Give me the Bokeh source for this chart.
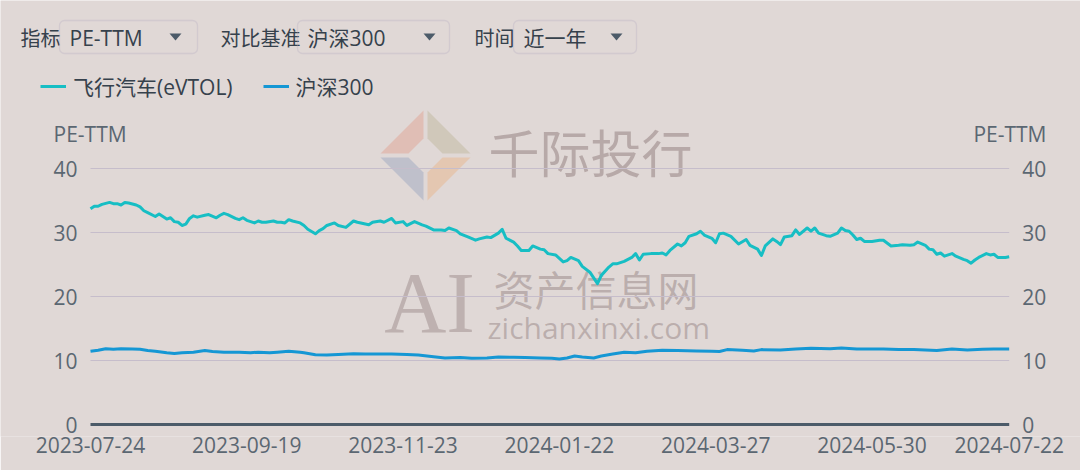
from bokeh.plotting import figure
from bokeh.models import (Range1d, FixedTicker, Label, BoxAnnotation,
                          PolyAnnotation, ColumnDataSource)
from bokeh.core.properties import value
from bokeh.embed import file_html
from bokeh.resources import INLINE

# ---------------- data (x = trading-day number, 0 = 2023-07-24) ----------------
series_names = ["飞行汽车(eVTOL)", "沪深300"]

evtol_day = [0, 1, 2, 3, 5, 6, 7, 8, 9, 10, 12, 13, 14, 15, 17, 18, 19, 20, 21, 22, 23, 24, 25, 26, 27, 28,
             30, 31, 33, 34, 35, 36, 38, 39, 40, 41, 43, 44, 45, 46, 48, 49, 50, 51, 52, 53, 55, 56, 57, 59,
             60, 61, 62, 64, 65, 67, 69, 70, 73, 74, 76, 77, 79, 80, 82, 83, 85, 87, 88, 90, 92, 93, 94, 96,
             97, 99, 101, 102, 104, 105, 107, 108, 109, 111, 112, 113, 115, 116, 118, 119, 120, 122, 124, 125,
             126, 128, 129, 131, 132, 133, 134, 136, 137, 138, 140, 142, 143, 144, 145, 147, 149, 150, 151,
             152, 154, 155, 156, 157, 159, 160, 161, 163, 164, 165, 166, 168, 170, 172, 173, 175, 176, 177,
             179, 180, 181, 182, 184, 185, 186, 188, 189, 190, 191, 193, 194, 196, 197, 198, 199, 200, 201,
             202, 203, 205, 207, 208, 210, 212, 213, 215, 216, 217, 219, 220, 221, 222, 223, 224, 226, 227,
             229, 230, 231, 232, 233, 235, 236, 237, 238, 240, 241]
evtol_pe = [33.7, 34.1, 34.1, 34.4, 34.7, 34.5, 34.5, 34.3, 34.7, 34.6, 34.3, 34.0, 33.4, 33.1, 32.5, 32.9,
            32.5, 32.1, 32.3, 31.7, 31.6, 31.1, 31.3, 32.2, 32.6, 32.4, 32.7, 32.8, 32.3, 32.7, 33.0, 32.8,
            32.2, 32.0, 32.3, 31.9, 31.5, 31.8, 31.6, 31.6, 31.8, 31.6, 31.6, 31.5, 32.0, 31.8, 31.5, 31.1,
            30.5, 29.8, 30.3, 30.6, 31.1, 31.5, 31.1, 30.8, 31.8, 31.6, 31.2, 31.6, 31.8, 31.6, 32.2, 31.5,
            31.7, 31.1, 31.7, 31.2, 31.0, 30.4, 30.4, 30.3, 30.7, 30.3, 29.8, 29.3, 28.8, 29.0, 29.3, 29.2,
            29.9, 30.5, 29.1, 28.5, 27.9, 27.2, 27.2, 27.9, 27.4, 27.3, 26.7, 26.5, 25.4, 25.6, 26.1, 25.6,
            24.7, 23.8, 22.9, 22.0, 23.3, 24.6, 25.1, 25.1, 25.5, 26.1, 26.7, 25.7, 26.6, 26.7, 26.7, 26.8,
            26.5, 27.2, 28.2, 27.9, 28.4, 29.4, 29.8, 30.2, 29.6, 29.1, 28.4, 29.8, 29.9, 29.4, 28.2, 28.9,
            28.0, 27.4, 26.4, 27.9, 29.0, 28.6, 28.1, 29.3, 29.5, 30.4, 29.7, 30.7, 30.2, 30.7, 29.9, 29.5,
            29.4, 29.9, 30.7, 30.3, 30.2, 29.6, 28.9, 29.1, 28.6, 28.6, 28.8, 28.8, 27.9, 28.0, 28.1, 28.0,
            28.1, 28.5, 28.0, 27.4, 27.3, 26.6, 26.8, 26.3, 26.7, 26.3, 25.8, 25.6, 25.2, 25.7, 26.1, 26.7,
            26.5, 26.6, 26.1, 26.1, 26.2]

hs300_day = [0, 2, 4, 6, 8, 11, 13, 15, 17, 20, 22, 24, 27, 30, 32, 35, 39, 42, 44, 47, 49, 52, 55, 56,
             59, 62, 65, 69, 72, 76, 79, 83, 86, 90, 93, 97, 100, 104, 107, 111, 114, 118, 121, 123, 125,
             127, 129, 132, 134, 137, 140, 143, 146, 150, 154, 159, 163, 165, 167, 171, 174, 176, 181, 185,
             189, 194, 197, 201, 205, 208, 212, 216, 219, 222, 226, 230, 234, 237, 241]
hs300_pe = [11.43, 11.6, 11.85, 11.75, 11.85, 11.8, 11.75, 11.55, 11.45, 11.2, 11.1, 11.2, 11.3, 11.55,
            11.4, 11.3, 11.3, 11.2, 11.3, 11.2, 11.3, 11.45, 11.3, 11.2, 10.9, 10.85, 10.95, 11.05, 11.0,
            11.0, 11.0, 10.95, 10.85, 10.6, 10.4, 10.45, 10.35, 10.4, 10.55, 10.5, 10.45, 10.4, 10.35,
            10.25, 10.4, 10.7, 10.55, 10.4, 10.7, 11.0, 11.3, 11.2, 11.45, 11.6, 11.55, 11.5, 11.45, 11.4,
            11.7, 11.6, 11.5, 11.7, 11.65, 11.8, 11.9, 11.85, 11.95, 11.8, 11.8, 11.8, 11.7, 11.7, 11.65,
            11.55, 11.8, 11.65, 11.75, 11.8, 11.8]

tick_days = [0, 41, 82, 123, 164, 205, 241]
tick_labels = ["2023-07-24", "2023-09-19", "2023-11-23", "2024-01-22",
               "2024-03-27", "2024-05-30", "2024-07-22"]
y_ticks = [0, 10, 20, 30, 40]

# ---------------- style ----------------
BG = "#e0d8d6"
TEAL = "#17bec4"
BLUE = "#1597d4"
AXIS_TXT = "#5b6772"
DARK_TXT = "#36414c"
FONT = "'Open Sans', 'Noto Sans CJK SC', sans-serif"
CJK = "'Noto Sans CJK SC', sans-serif"

W, H = 1080, 470
PLOT_L, PLOT_R = 90.0, 1008.7     # pixel x of first / last trading day
ZERO_Y = 424                      # pixel y of PE = 0
FRAME_B = 436                     # pixel y of frame bottom (room for the "0" labels)
PX_PER_UNIT = 6.4                 # vertical pixels per PE unit
px_per_day = (PLOT_R - PLOT_L) / (tick_days[-1] - tick_days[0])
x_range = Range1d(tick_days[0] - PLOT_L / px_per_day, tick_days[-1] + (W - PLOT_R) / px_per_day)
y_range = Range1d(-(FRAME_B - ZERO_Y) / PX_PER_UNIT, ZERO_Y / PX_PER_UNIT)

p = figure(width=W, height=H, output_backend="svg", toolbar_location=None,
           x_range=x_range, y_range=y_range, y_axis_location=None,
           min_border_left=0, min_border_right=0, min_border_top=0, min_border_bottom=H - FRAME_B,
           background_fill_color=BG, border_fill_color=BG, outline_line_color=None)
p.grid.visible = False

# horizontal grid lines over the data span, and the dark base line at 0
grid_src = ColumnDataSource(dict(y=y_ticks[1:], x0=[tick_days[0]] * 4, x1=[tick_days[-1]] * 4))
p.segment(x0="x0", x1="x1", y0="y", y1="y", source=grid_src, line_color="#c6bdcb", line_width=1)
base_src = ColumnDataSource(dict(y=y_ticks[:1], x0=tick_days[:1], x1=tick_days[-1:]))
p.segment(x0="x0", x1="x1", y0="y", y1="y", source=base_src, line_color="#4c5b69", line_width=3)

evtol_src = ColumnDataSource(dict(day=evtol_day, pe=evtol_pe))
hs_src = ColumnDataSource(dict(day=hs300_day, pe=hs300_pe))
p.line("day", "pe", source=evtol_src, line_color=TEAL, line_width=3, line_join="round",
       legend_label=series_names[0])
p.line("day", "pe", source=hs_src, line_color=BLUE, line_width=3, line_join="round",
       legend_label=series_names[1])

# y tick labels on both sides
ylab = ColumnDataSource(dict(y=y_ticks, t=[str(v) for v in y_ticks],
                             xl=[tick_days[0]] * 5, xr=[tick_days[-1]] * 5))
p.text(x="xl", y="y", text="t", source=ylab, x_offset=-13, text_align="right",
       text_baseline="middle", text_font=value(FONT), text_font_size="21px", text_color=AXIS_TXT)
p.text(x="xr", y="y", text="t", source=ylab, x_offset=13, text_align="left",
       text_baseline="middle", text_font=value(FONT), text_font_size="21px", text_color=AXIS_TXT)

# x axis (real axis, below) - labels only
xa = p.xaxis[0]
xa.bounds = (tick_days[0], tick_days[-1])
xa.ticker = FixedTicker(ticks=tick_days)
xa.major_label_overrides = dict(zip(tick_days, tick_labels))
xa.axis_line_color = None
xa.major_tick_line_color = None
xa.minor_tick_line_color = None
xa.major_tick_out = 0
xa.major_tick_in = 0
xa.major_label_standoff = 0
xa.major_label_text_font = FONT
xa.major_label_text_font_size = "21px"
xa.major_label_text_color = AXIS_TXT


def sy(py):  # page y -> frame screen y (measured up from frame bottom)
    return FRAME_B - py


# axis names
p.add_layout(Label(x=53, y=sy(133), x_units="screen", y_units="screen", text="PE-TTM",
                   text_font=FONT, text_font_size="21px", text_color=AXIS_TXT,
                   text_baseline="middle", text_align="left"))
p.add_layout(Label(x=1046, y=sy(133), x_units="screen", y_units="screen", text="PE-TTM",
                   text_font=FONT, text_font_size="21px", text_color=AXIS_TXT,
                   text_baseline="middle", text_align="right"))

# legend (location = its bottom-left corner)
lg = p.legend[0]
lg.location = (40, sy(101))
lg.orientation = "horizontal"
lg.padding = 0
lg.margin = 0
lg.spacing = 30
lg.glyph_width = 26
lg.glyph_height = 24
lg.label_height = 24
lg.label_standoff = 7
lg.background_fill_alpha = 0
lg.border_line_color = None
lg.label_text_font = FONT
lg.label_text_font_size = "21px"
lg.label_text_color = DARK_TXT

# selector controls at top
CTRL_Y = sy(37)
ctrl_labels = [("指标", 20), ("对比基准", 220), ("时间", 474)]
ctrl_boxes = [(59, 197, "PE-TTM", 175), (297, 449, "沪深300", 429), (513, 636, "近一年", 616)]
for txt, x in ctrl_labels:
    p.add_layout(Label(x=x, y=CTRL_Y, x_units="screen", y_units="screen", text=txt,
                       text_font=CJK, text_font_size="20px", text_color=DARK_TXT,
                       text_baseline="middle"))
for left, right, txt, tri in ctrl_boxes:
    p.add_layout(BoxAnnotation(left=left, right=right, top=sy(20), bottom=sy(53),
                               left_units="screen", right_units="screen",
                               top_units="screen", bottom_units="screen",
                               fill_alpha=0, line_color="#b3a9c0", line_width=1.3,
                               border_radius=5))
    p.add_layout(Label(x=left + 10, y=CTRL_Y, x_units="screen", y_units="screen", text=txt,
                       text_font=FONT, text_font_size="21px", text_color=DARK_TXT,
                       text_baseline="middle"))
    p.add_layout(PolyAnnotation(xs=[tri - 6, tri + 6, tri], ys=[sy(33), sy(33), sy(40)],
                                xs_units="screen", ys_units="screen",
                                fill_color="#4c5b69", fill_alpha=1, line_color=None))

# watermarks
cx, cy, R, r = 425, sy(155), 45, 17
pieces = [
    ([cx - R, cx - 2, cx - 2, cx - r], [cy + 2, cy + R, cy + r, cy + 2], "#e08e78"),
    ([cx + 2, cx + R, cx + r, cx + 2], [cy + R, cy + 2, cy + 2, cy + r], "#b2ab86"),
    ([cx - R, cx - r, cx - 2, cx - 2], [cy - 2, cy - 2, cy - r, cy - R], "#8194b8"),
    ([cx + r, cx + R, cx + 2, cx + 2], [cy - 2, cy - 2, cy - R, cy - r], "#eaa86c"),
]
for xs, ys, c in pieces:
    p.add_layout(PolyAnnotation(xs=xs, ys=ys, xs_units="screen", ys_units="screen",
                                fill_color=c, fill_alpha=0.35, line_color=None, level="underlay"))
wm = [("千际投行", 488, sy(150), "51px", CJK, 0.42),
      ("资产信息网", 493, sy(287), "41px", CJK, 0.38),
      ("zichanxinxi.com", 487, sy(327), "30px", FONT, 0.38)]
for txt, x, y, sz, f, a in wm:
    p.add_layout(Label(x=x, y=y, x_units="screen", y_units="screen", text=txt,
                       text_font=f, text_font_size=sz, text_color="#7e6a6a", text_alpha=a,
                       text_baseline="middle", level="underlay"))
p.add_layout(Label(x=429, y=sy(302), x_units="screen", y_units="screen", text="AI",
                   text_font="'Liberation Serif', serif", text_font_size="86px",
                   text_color="#7e6a6a", text_alpha=0.35, text_align="center",
                   text_baseline="middle", level="underlay"))

html = file_html(p, INLINE)
html = html.replace("<body>", '<body style="background:%s;">' % BG, 1)
open("out.html", "w").write(html)
